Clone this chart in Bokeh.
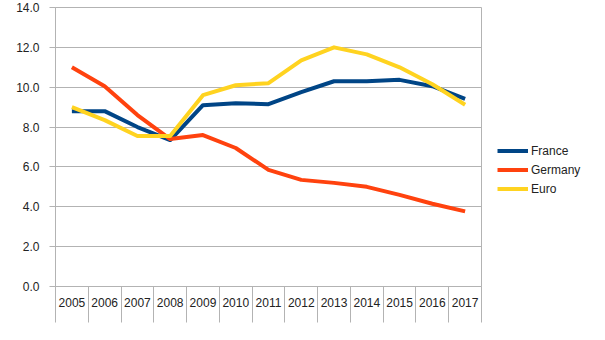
from bokeh.plotting import figure
from bokeh.models import FixedTicker, NumeralTickFormatter, Legend, LegendItem, Range1d
from bokeh.embed import file_html
from bokeh.resources import INLINE

years = [2005, 2006, 2007, 2008, 2009, 2010, 2011, 2012, 2013, 2014, 2015, 2016, 2017]
france = [8.8, 8.8, 8.0, 7.35, 9.1, 9.2, 9.15, 9.75, 10.3, 10.3, 10.37, 10.05, 9.42]
germany = [11.0, 10.05, 8.6, 7.4, 7.6, 6.95, 5.85, 5.35, 5.2, 5.0, 4.6, 4.15, 3.77]
euro = [9.0, 8.35, 7.55, 7.55, 9.6, 10.1, 10.2, 11.35, 12.0, 11.65, 11.0, 10.15, 9.12]
y_ticks = [0, 2, 4, 6, 8, 10, 12, 14]

series = [("France", france, "#004586"), ("Germany", germany, "#ff420e"), ("Euro", euro, "#ffd320")]

FONT = "Liberation Sans"
GRID = "#b3b3b3"

p = figure(frame_width=426, frame_height=279, output_backend="svg", toolbar_location=None,
           x_range=Range1d(years[0] - 0.5, years[-1] + 0.5), y_range=Range1d(0, 14),
           min_border_left=55, min_border_right=124, min_border_top=7, min_border_bottom=54)
p.background_fill_color = "white"
p.border_fill_color = "white"
p.outline_line_color = GRID

p.xaxis.ticker = FixedTicker(ticks=years, minor_ticks=[y - 0.5 for y in years] + [years[-1] + 0.5])
p.xaxis.major_label_overrides = {y: str(y) for y in years}
p.xaxis.major_tick_line_color = None
p.xaxis.major_tick_out = 0
p.xaxis.major_tick_in = 0
p.xaxis.minor_tick_line_color = GRID
p.xaxis.minor_tick_out = 36
p.xaxis.minor_tick_in = 0
p.xaxis.axis_line_color = GRID
p.xaxis.major_label_standoff = -25
p.xgrid.grid_line_color = None

p.yaxis.ticker = FixedTicker(ticks=y_ticks)
p.yaxis.formatter = NumeralTickFormatter(format="0.0")
p.yaxis.major_tick_out = 6
p.yaxis.major_tick_in = 0
p.yaxis.major_tick_line_color = GRID
p.yaxis.minor_tick_line_color = None
p.yaxis.axis_line_color = GRID
p.yaxis.major_label_standoff = 10
p.ygrid.grid_line_color = GRID

for ax in (p.xaxis, p.yaxis):
    ax.major_label_text_font = FONT
    ax.major_label_text_font_size = "12px"
    ax.major_label_text_color = "#222222"

items = []
for name, vals, color in series:
    r = p.line(years, vals, line_color=color, line_width=4, line_join="round")
    items.append(LegendItem(label=name, renderers=[r]))

legend = Legend(items=items, location=(16, 88), padding=0, spacing=0, margin=0,
                label_height=19, glyph_height=19, glyph_width=31, label_standoff=3,
                border_line_color=None, background_fill_alpha=0,
                label_text_font=FONT, label_text_font_size="12px", label_text_color="#222222")
p.add_layout(legend, "right")

open("out.html", "w").write(file_html(p, INLINE))
